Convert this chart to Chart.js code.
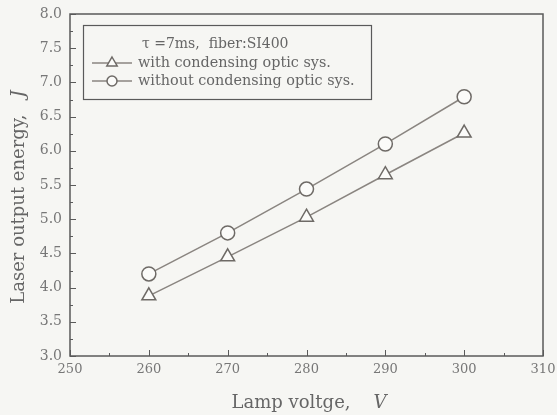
<!DOCTYPE html>
<html>
<head>
<meta charset="utf-8">
<script src="https://cdn.jsdelivr.net/npm/chart.js@4/dist/chart.umd.min.js"></script>
<style>
  html, body { margin: 0; padding: 0; background: #f6f6f3; }
  #wrap { width: 557px; height: 415px; }
</style>
</head>
<body>
<div id="wrap"><canvas id="chart" width="557" height="415"></canvas></div>
<script>
const voltages = [260, 270, 280, 290, 300];
const withCondensing = [3.88, 4.45, 5.03, 5.65, 6.26];
const withoutCondensing = [4.20, 4.80, 5.44, 6.10, 6.79];
const xTicks = [250, 260, 270, 280, 290, 300, 310];
const yTicks = [3.0, 3.5, 4.0, 4.5, 5.0, 5.5, 6.0, 6.5, 7.0, 7.5, 8.0];

const legendTitle = '\u03c4 =7ms,  fiber:SI400';
const labelWith = 'with condensing optic sys.';
const labelWithout = 'without condensing optic sys.';

const serif = '"DejaVu Serif", "Liberation Serif", serif';
const lineColor = '#8a8580';
const frameColor = '#5a5a5a';
const textColor = '#666';

function drawMarker(ctx, style, r, cx, cy) {
  ctx.beginPath();
  if (style === 'circle') {
    ctx.arc(cx, cy, r, 0, Math.PI * 2);
  } else {
    ctx.moveTo(cx, cy - r);
    ctx.lineTo(cx + r * 0.866, cy + r * 0.5);
    ctx.lineTo(cx - r * 0.866, cy + r * 0.5);
    ctx.closePath();
  }
  ctx.fillStyle = '#fbfbf9';
  ctx.fill();
  ctx.strokeStyle = '#6e6a66';
  ctx.lineWidth = 1.5;
  ctx.stroke();
}

// title text with an italic unit letter at the end
function mixedText(ctx, plain, italic, size, centerX, y) {
  ctx.font = size + 'px ' + serif;
  const w1 = ctx.measureText(plain).width;
  ctx.font = 'italic ' + size + 'px ' + serif;
  const w2 = ctx.measureText(italic).width;
  const x0 = centerX - (w1 + w2) / 2;
  ctx.font = size + 'px ' + serif;
  ctx.fillText(plain, x0, y);
  ctx.font = 'italic ' + size + 'px ' + serif;
  ctx.fillText(italic, x0 + w1, y);
}

// frame, inward ticks, axis titles and boxed legend
const decorations = {
  id: 'decorations',
  afterDraw(chart) {
    const { ctx, chartArea: a, scales } = chart;
    const x = scales.x, y = scales.y;
    ctx.save();

    // inward tick marks (major + minor)
    ctx.strokeStyle = frameColor;
    ctx.lineWidth = 1;
    ctx.beginPath();
    for (let v = 250; v <= 310; v += 5) {
      const px = Math.round(x.getPixelForValue(v)) + 0.5;
      const len = v % 10 === 0 ? 6 : 3;
      ctx.moveTo(px, a.bottom);
      ctx.lineTo(px, a.bottom - len);
    }
    for (let v = 3.0; v <= 8.001; v += 0.25) {
      const py = Math.round(y.getPixelForValue(v)) + 0.5;
      const major = Math.abs(v * 2 - Math.round(v * 2)) < 1e-6;
      ctx.moveTo(a.left, py);
      ctx.lineTo(a.left + (major ? 6 : 3), py);
    }
    ctx.stroke();

    // frame
    ctx.lineWidth = 1.5;
    ctx.strokeRect(a.left, a.top, a.right - a.left, a.bottom - a.top);

    // axis titles
    ctx.fillStyle = textColor;
    ctx.textBaseline = 'middle';
    ctx.textAlign = 'left';
    mixedText(ctx, 'Lamp voltge,    ', 'V', 18, 309, 403);

    ctx.translate(19, 197);
    ctx.rotate(-Math.PI / 2);
    mixedText(ctx, 'Laser output energy,   ', 'J', 18, 0, 0);
    ctx.setTransform(1, 0, 0, 1, 0, 0);

    // legend box
    ctx.strokeStyle = frameColor;
    ctx.lineWidth = 1.2;
    ctx.strokeRect(83.5, 25.5, 288, 74);
    ctx.fillStyle = textColor;
    ctx.font = '14px ' + serif;
    ctx.fillText(legendTitle, 142, 44);
    const rows = [
      { label: labelWith, ds: chart.data.datasets[0], yy: 63 },
      { label: labelWithout, ds: chart.data.datasets[1], yy: 81 }
    ];
    rows.forEach(r => {
      ctx.strokeStyle = lineColor;
      ctx.lineWidth = 1.5;
      ctx.beginPath();
      ctx.moveTo(92, r.yy);
      ctx.lineTo(132, r.yy);
      ctx.stroke();
      drawMarker(ctx, r.ds.pointStyle, r.ds.pointRadius - 2, 112, r.yy);
      ctx.fillStyle = textColor;
      ctx.font = '14.4px ' + serif;
      ctx.fillText(r.label, 138, r.yy);
    });
    ctx.restore();
  }
};

const pointDefaults = {
  borderColor: lineColor,
  borderWidth: 1.5,
  pointBackgroundColor: '#fbfbf9',
  pointBorderColor: '#6e6a66',
  pointBorderWidth: 1.5,
  tension: 0
};

new Chart(document.getElementById('chart'), {
  type: 'line',
  data: {
    datasets: [
      Object.assign({
        label: labelWith,
        data: voltages.map((v, i) => ({ x: v, y: withCondensing[i] })),
        pointStyle: 'triangle',
        pointRadius: 8
      }, pointDefaults),
      Object.assign({
        label: labelWithout,
        data: voltages.map((v, i) => ({ x: v, y: withoutCondensing[i] })),
        pointStyle: 'circle',
        pointRadius: 7
      }, pointDefaults)
    ]
  },
  plugins: [decorations],
  options: {
    responsive: false,
    animation: false,
    layout: { padding: { top: 14, right: 14, left: 0, bottom: 0 } },
    plugins: {
      legend: { display: false },
      tooltip: { enabled: false }
    },
    scales: {
      x: {
        type: 'linear',
        min: 250,
        max: 310,
        afterBuildTicks: s => { s.ticks = xTicks.map(v => ({ value: v })); },
        afterFit: s => { s.height = 59; },
        grid: { display: false },
        border: { display: false },
        ticks: {
          color: '#777',
          font: { family: serif, size: 13 },
          padding: -2,
          maxRotation: 0
        }
      },
      y: {
        type: 'linear',
        min: 3,
        max: 8,
        afterBuildTicks: s => { s.ticks = yTicks.map(v => ({ value: v })); },
        afterFit: s => { s.width = 70; },
        grid: { display: false },
        border: { display: false },
        ticks: {
          color: '#777',
          font: { family: serif, size: 14 },
          padding: 0,
          callback: v => v.toFixed(1)
        }
      }
    }
  }
});
</script>
</body>
</html>
